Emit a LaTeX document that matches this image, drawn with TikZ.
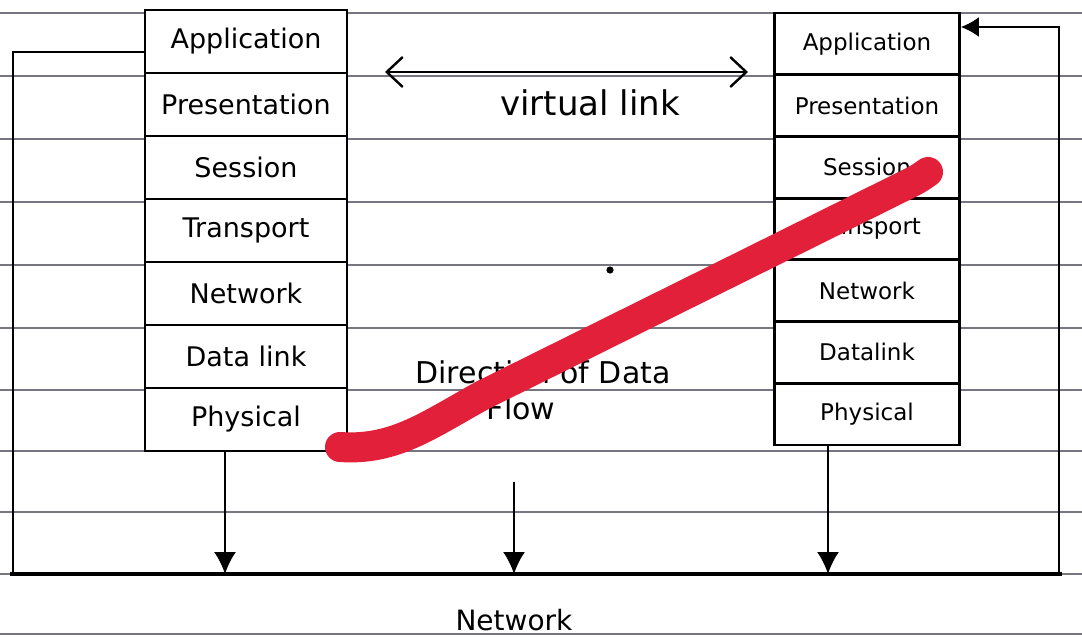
\documentclass[tikz,border=0pt]{standalone}
\usepackage{fontspec}
\setmainfont{DejaVu Sans}
\usetikzlibrary{arrows.meta}
\definecolor{paper}{RGB}{118,118,128}
\definecolor{marker}{RGB}{226,32,58}
\begin{document}
\begin{tikzpicture}[x=0.5pt,y=-0.5pt,
  lcell/.style={draw=black,line width=1.4pt,fill=white,minimum width=101pt,minimum height=31.5pt,inner sep=0pt,font=\fontsize{13.5}{16}\selectfont},
  rcell/.style={draw=black,line width=1.4pt,fill=white,minimum width=92.5pt,minimum height=30.85pt,inner sep=0pt,font=\fontsize{11.5}{14}\selectfont},
  ruling/.style={draw=paper,line width=1pt},
  pen/.style={draw=black,line width=1pt},
  downarrow/.style={draw=black,line width=1pt,-{Latex[length=11pt,width=11pt]}},
  virtual/.style={draw=black,line width=1.4pt,{Straight Barb[length=8pt,width=15pt,line width=1.2pt]}-{Straight Barb[length=8pt,width=15pt,line width=1.2pt]}},
  lbl/.style={inner sep=0pt},
  marker stroke/.style={draw=marker,line width=15pt,line cap=round,line join=round}]
\fill[white] (0,0) rectangle (1082,637);
\useasboundingbox (0,0) rectangle (1082,637);
% ruled paper
\foreach \yy in {13,76,139,202,265,328,390,451,512,574,634}
  \draw[ruling] (0,\yy) -- (1082,\yy);
% left stack
\node[lcell] (lapp) at (246,41.5) {Application};
\node[lcell] (lpre) at (246,104.5) {Presentation};
\node[lcell] (lses) at (246,167.5) {Session};
\node[lcell] (ltra) at (246,230.5) {Transport};
\node[lcell] (lnet) at (246,293.5) {Network};
\node[lcell] (ldat) at (246,356.5) {Data link};
\node[lcell] (lphy) at (246,419.5) {Physical};
% right stack
\node[rcell] (rapp) at (867,43.9) {Application};
\node[rcell] (rpre) at (867,105.6) {Presentation};
\node[rcell] (rses) at (867,167.3) {Session};
\node[rcell] (rtra) at (867,229) {Transport};
\node[rcell] (rnet) at (867,290.7) {Network};
\node[rcell] (rdat) at (867,352.4) {Datalink};
\node[rcell] (rphy) at (867,414.1) {Physical};
% network bus
\coordinate (netL) at (10,574);
\coordinate (netR) at (1062,574);
\draw[black,line width=2pt] (netL) -- (netR);
% arrows to network
\coordinate (nl) at (225,574);
\coordinate (nm) at (514,574);
\coordinate (ms) at (514,482);
\coordinate (nr) at (828,574);
\draw[downarrow] (lphy.south -| nl) -- (nl);
\draw[downarrow] (ms) -- (nm);
\draw[downarrow] (rphy.south -| nr) -- (nr);
% feedback lines
\coordinate (lfbtop) at (13,52);
\coordinate (lfb) at (13,574);
\draw[pen] (lfbtop -| lapp.west) -- (lfbtop) -- (lfb);
\coordinate (rfbtop) at (1059,27);
\coordinate (rfb) at (1059,574);
\draw[pen,-{Latex[length=9pt,width=10pt]}] (rfb) -- (rfbtop) -- (rfbtop -| rapp.east);
% virtual link
\coordinate (vl) at (385,72);
\coordinate (vr) at (748,72);
\draw[virtual] (vl) -- (vr);
\node[lbl,font=\fontsize{17}{20}\selectfont] (vtxt) at (590,103) {virtual link};
% direction of data flow
\node[lbl,font=\fontsize{15}{18}\selectfont] (dtxt) at (543,372) {Direction of Data};
\node[lbl,font=\fontsize{15}{18}\selectfont] (ftxt) at (521,408) {Flow};
\node[lbl,font=\fontsize{14}{17}\selectfont] (ntxt) at (514,620) {Network};
% stray dot
\fill[black] (610,270) circle (1.8pt);
% red marker stroke
\draw[marker stroke] (340,447) .. controls (395,451) and (430,424) .. (483,395) -- (908,184) .. controls (918,179) .. (928,172);
\end{tikzpicture}
\end{document}
